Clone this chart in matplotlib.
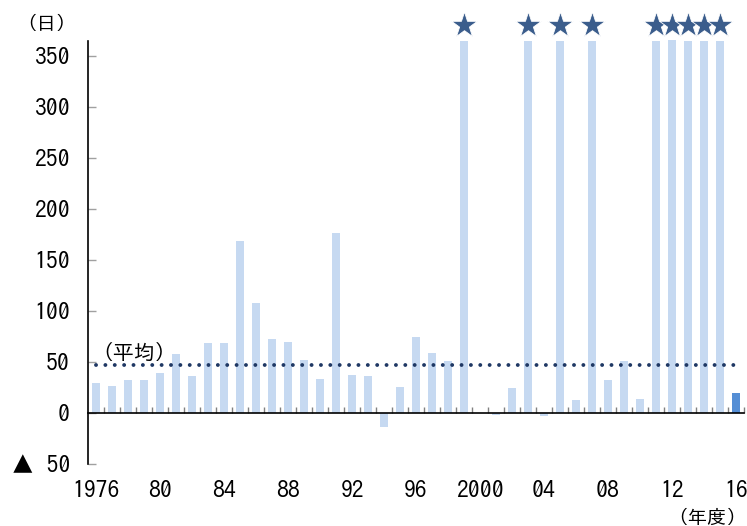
import matplotlib
matplotlib.use("Agg")
import matplotlib.pyplot as plt
from matplotlib import font_manager
import numpy as np

# ---- data ----
years = list(range(1976, 2017))
days = [29, 27, 32, 32, 39, 58, 36, 69, 69, 169,
        108, 73, 70, 52, 33, 177, 37, 36, -14, 26,
        75, 59, 51, 365, 0, -2, 25, 365, -3, 365,
        13, 365, 32, 51, 14, 365, 366, 365, 365, 365,
        20]
average = 47
tick_years = [1976, 1980, 1984, 1988, 1992, 1996, 2000, 2004, 2008, 2012, 2016]
tick_labels = ["1976", "80", "84", "88", "92", "96", "2000", "04", "08", "12", "16"]
y_ticks = [-50, 0, 50, 100, 150, 200, 250, 300, 350]
y_labels = ["▲ 50", "0", "50", "100", "150", "200", "250", "300", "350"]

names = {f.name for f in font_manager.fontManager.ttflist}
fam = [n for n in ["IPAGothic", "Noto Sans CJK JP"] if n in names] + ["DejaVu Sans"]
plt.rcParams["font.family"] = fam

fig = plt.figure(figsize=(7.47, 5.26), dpi=100)
ax = fig.add_axes([0.1178, 0.1179, 0.996 - 0.1178, 0.922 - 0.1179])

x = np.arange(len(years))
colors = ["#c6d9f1"] * (len(years) - 1) + ["#558ed5"]
ax.bar(x, days, width=0.45, color=colors, clip_on=False, zorder=2)

# stars above the capped (full-year) bars
full = [i for i, d in enumerate(days) if d >= 365]
ax.scatter(full, [381] * len(full), marker="*", s=380, color="#3b5d8c",
           edgecolors="white", linewidths=0.6, clip_on=False, zorder=4)

# average line
ax.plot([x[0], x[-1]], [average, average], color="#1f3864", lw=2.8,
        linestyle=(0, (0.01, 2.4)), dash_capstyle="round", zorder=3)
ax.text(-0.25, average + 3, "（平均）", fontsize=15, ha="left", va="bottom")

ax.set_xlim(-0.5, len(years) - 0.5)
ax.set_ylim(-50, 365)

ax.spines["top"].set_visible(False)
ax.spines["right"].set_visible(False)
ax.spines["bottom"].set_position(("data", 0))
ax.spines["bottom"].set_zorder(5)
ax.spines["left"].set_linewidth(1.2)
ax.spines["bottom"].set_linewidth(1.2)

ax.set_xticks([years.index(y) for y in tick_years])
ax.set_xticklabels(tick_labels, fontsize=17)
ax.tick_params(axis="x", which="major", length=0, pad=48)
ax.set_xticks(np.arange(0.5, len(years)), minor=True)
ax.tick_params(axis="x", which="minor", direction="in", length=4, color="#808080", width=1)

ax.set_yticks(y_ticks)
ax.set_yticklabels(y_labels, fontsize=17)
ax.tick_params(axis="y", direction="in", length=6, color="#a0a0a0", width=1, pad=13)

fig.text(0.062, 0.955, "（日）", fontsize=14, ha="center", va="center")
fig.text(0.999, 0.017, "（年度）", fontsize=14, ha="right", va="center")

fig.savefig("out.png", dpi=100)
